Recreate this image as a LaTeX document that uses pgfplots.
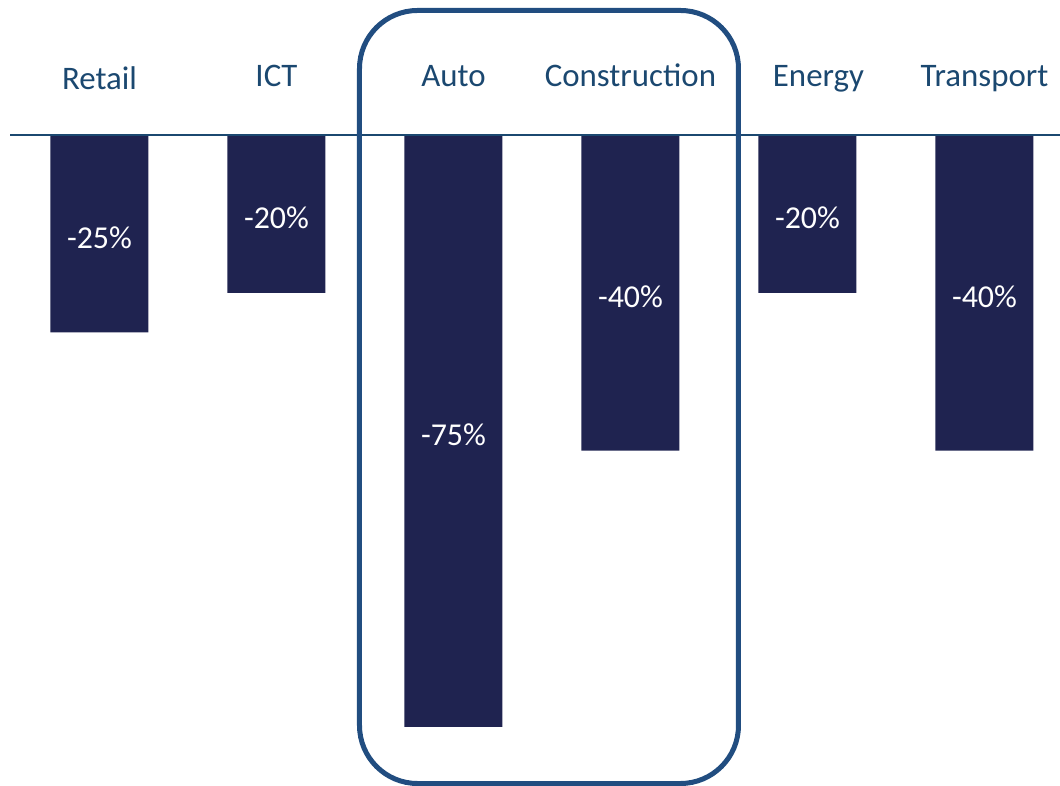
\documentclass[border=0pt]{standalone}
\usepackage{pgfplots}
\pgfplotsset{compat=1.18}
\usepackage{fontspec}
\setmainfont{Carlito}
\definecolor{barc}{HTML}{1F2350}
\definecolor{boxc}{HTML}{214D80}
\definecolor{txtc}{HTML}{1B4870}
\begin{document}
\begin{tikzpicture}
\useasboundingbox (0,0) rectangle (1060bp,786bp);
\begin{axis}[
  at={(0,0)}, anchor=south west,
  scale only axis, width=1060bp, height=786bp,
  xmin=-0.5621, xmax=5.4266, ymin=-82.48, ymax=17.10,
  axis line style={draw=none}, major tick length=0pt, ytick=\empty,
  xtick={0,...,5},
  xticklabels={\raisebox{-3bp}{Retail},ICT,Auto,Construction,\hspace*{22bp}Energy,Transport},
  xticklabel pos=upper,
  xticklabel style={anchor=base, yshift=-87bp, font=\fontsize{33}{38}\selectfont, text=txtc},
  ybar, bar width=98bp, clip=false,
  point meta=explicit symbolic,
  nodes near coords,
  visualization depends on={y \as \rawy},
  every node near coord/.append style={anchor=center, text=white,
     font=\fontsize{32}{37}\selectfont,
     shift={(axis direction cs:0,-\rawy/2)}, yshift=-4bp},
]
\addplot[fill=barc, draw=none] coordinates {
  (0,-25) [-25\%]
  (1,-20) [-20\%]
  (2,-75) [-75\%]
  (3,-40) [-40\%]
  (4,-20) [-20\%]
  (5,-40) [-40\%]
};
\draw[txtc, line width=2bp] (axis cs:-0.5056,0) -- (axis cs:5.4266,0);
\draw[boxc, line width=5bp, rounded corners=58bp]
  (rel axis cs:0.33915,0.98664) rectangle (rel axis cs:0.69670,0.003181);
\end{axis}
\end{tikzpicture}
\end{document}
